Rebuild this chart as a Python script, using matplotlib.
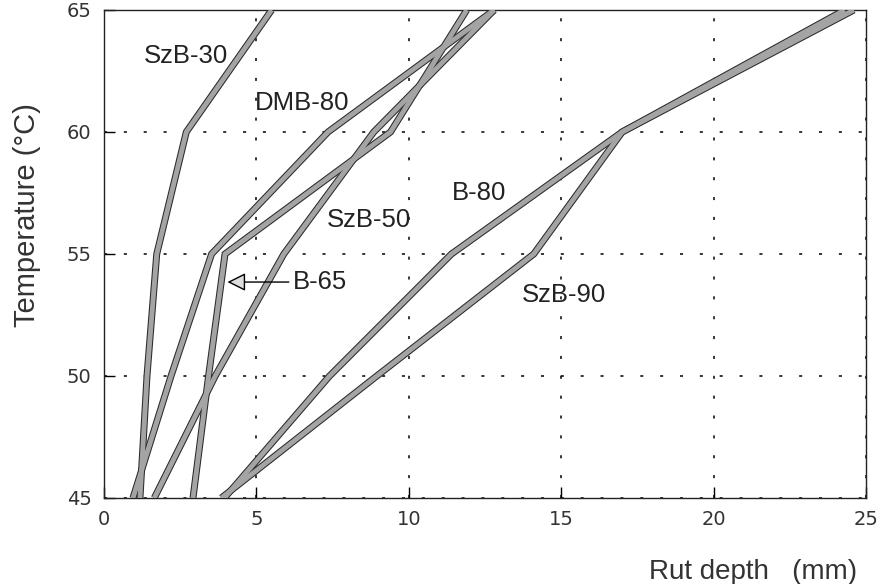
import numpy as np
import matplotlib
matplotlib.use("Agg")
import matplotlib.pyplot as plt

# temperatures (deg C) and rut depth (mm)
temps = [45, 50, 55, 60, 65]
szb30 = [1.18, 1.41, 1.73, 2.7, 5.5]
dmb80 = [0.95, 2.2, 3.53, 7.35, 12.8]
b65 = [2.92, 3.43, 3.97, 9.4, 11.9]
szb50 = [1.65, 3.65, 5.9, 8.85, 12.8]
b80 = [3.95, 7.4, 11.4, 17.0, 24.3]
szb90 = [3.85, 8.95, 14.1, 17.0, 24.6]

series = [szb30, dmb80, b65, szb50, b80, szb90]

# label text and where it sits (data coords)
labels = ["SzB-30", "DMB-80", "SzB-50", "B-80", "SzB-90"]
label_x = [2.7, 6.5, 8.7, 12.3, 15.1]
label_y = [63.1, 61.2, 56.4, 57.5, 53.3]

fig = plt.figure(figsize=(8.92, 5.84), dpi=100)
ax = fig.add_axes([0.1166, 0.1473, 0.8543, 0.8356])

# dark outline first, then the grey body, so merged lines share one band
for s in series:
    ax.plot(s, temps, color="#2a2a2a", lw=5.0, solid_joinstyle="miter",
            solid_capstyle="butt", zorder=3)
for s in series:
    ax.plot(s, temps, color="#a4a4a4", lw=3.5, solid_joinstyle="miter",
            solid_capstyle="butt", zorder=4)

txt_font = dict(family="Liberation Sans", fontsize=18.5, color="#222222")
for t, x, y in zip(labels, label_x, label_y):
    ax.text(x, y, t, ha="center", va="center", zorder=6, **txt_font)

ax.annotate("B-65", xy=(4.05, 53.85), xytext=(6.2, 53.85),
            ha="left", va="center", zorder=6, **txt_font,
            arrowprops=dict(arrowstyle="-|>,head_length=0.6,head_width=0.3",
                            fc="#dddddd", ec="black", lw=1.0,
                            shrinkA=1, shrinkB=0))

ax.set_xlim(0, 25)
ax.set_ylim(45, 65)
ax.set_xticks([0, 5, 10, 15, 20, 25])
ax.set_yticks([45, 50, 55, 60, 65])
ax.grid(True, color="black", lw=1.1, ls=(0, (2, 11)))
ax.tick_params(direction="in", length=8, width=1, top=False, right=False,
               labelsize=14, pad=9)
for lab in ax.get_xticklabels() + ax.get_yticklabels():
    lab.set_family("DejaVu Sans")
    lab.set_color("#333333")
for sp in ax.spines.values():
    sp.set_linewidth(1.0)
    sp.set_color("#222222")

ax.set_ylabel("Temperature (\u00b0C)", family="Liberation Sans", fontsize=21,
              color="#333333")
ax.yaxis.set_label_coords(-0.083, 0.58)
ax.set_xlabel("Rut depth   (mm)", family="Liberation Sans", fontsize=20,
              color="#333333")
ax.xaxis.set_label_coords(0.852, -0.125)

fig.savefig("out.png", dpi=100)
